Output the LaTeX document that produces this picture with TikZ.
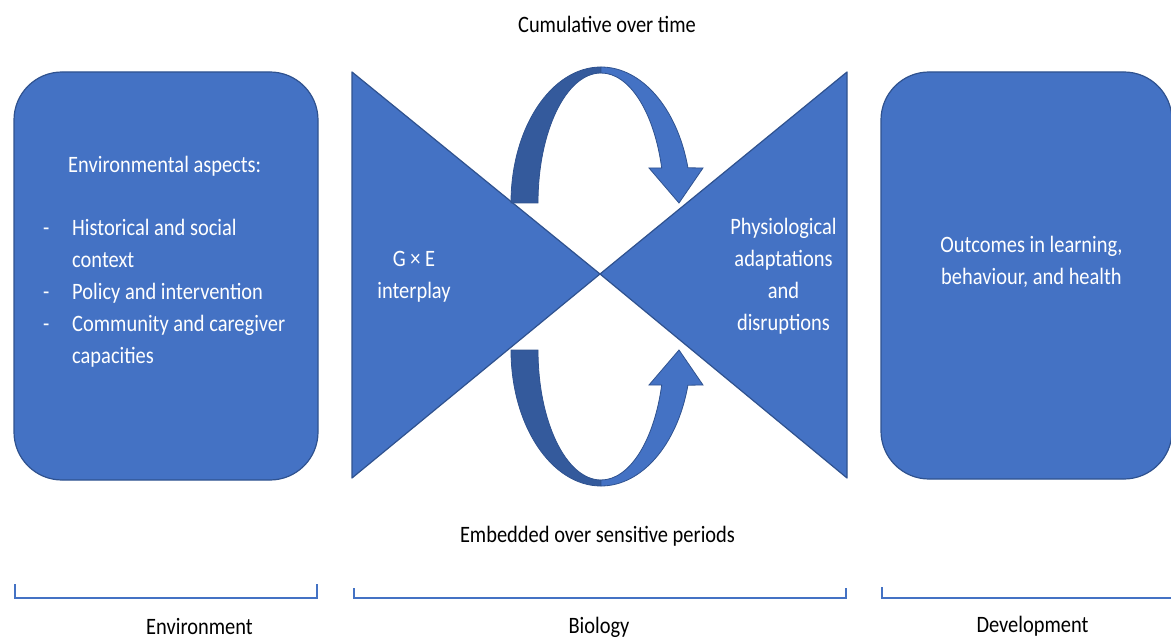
\documentclass[tikz,border=0pt]{standalone}
\usepackage{fontspec}
\setmainfont{Carlito}[FakeStretch=0.87]
\definecolor{myblue}{HTML}{4472C4}
\definecolor{myborder}{HTML}{2F528F}
\definecolor{mydark}{HTML}{345A9C}
\begin{document}
\begin{tikzpicture}[x=1pt,y=1pt,
  txt/.style={font=\fontsize{23.5}{32}\selectfont, inner sep=0pt},
  wtxt/.style={txt, text=white},
  roundbox/.style={draw=myborder, line width=1.2pt, fill=myblue, rounded corners=48pt, inner sep=0pt},
  tri/.style={draw=myborder, line width=1.2pt, fill=myblue, line join=round},
  arrowlight/.style={draw=myborder, line width=0.8pt, fill=myblue},
  arrowdark/.style={draw=myborder, line width=0.8pt, fill=mydark},
  bracket/.style={draw=myblue, line width=1.6pt}]
\useasboundingbox (0,0) rectangle (1171,-639);

% boxes
\node[roundbox, minimum width=304pt, minimum height=408pt] (envbox) at (166,-276) {};
\node[roundbox, minimum width=291pt, minimum height=407pt] (devbox) at (1026.5,-275.5) {};

% bow tie
\draw[tri] (352,-72) -- (352,-478) -- (600,-274) -- cycle;
\draw[tri] (847,-72) -- (847,-478) -- (600,-274) -- cycle;

% top curved arrow
\draw[arrowdark] (511,-203) arc[start angle=180,end angle=90,x radius=90pt,y radius=136pt]
  -- (601,-73) arc[start angle=90,end angle=180,x radius=63pt,y radius=130pt] -- cycle;
\draw[arrowlight] (601,-67) arc[start angle=90,end angle=15,x radius=90pt,y radius=136pt]
  -- (703,-168) -- (679,-203) -- (649,-168) -- (661.7,-168)
  arc[start angle=15.62,end angle=90,x radius=63pt,y radius=130pt] -- cycle;

% bottom curved arrow
\draw[arrowdark] (511,-350) arc[start angle=180,end angle=270,x radius=90pt,y radius=136pt]
  -- (601,-480) arc[start angle=270,end angle=180,x radius=63pt,y radius=130pt] -- cycle;
\draw[arrowlight] (601,-486) arc[start angle=270,end angle=345,x radius=90pt,y radius=136pt]
  -- (703,-385) -- (679,-350) -- (649,-385) -- (661.7,-385)
  arc[start angle=344.38,end angle=270,x radius=63pt,y radius=130pt] -- cycle;

% brackets
\draw[bracket] (15,-584) -- (15,-598) -- (317,-598) -- (317,-584);
\draw[bracket] (354,-588) -- (354,-598) -- (846,-598) -- (846,-588);
\draw[bracket] (882,-587) -- (882,-598) -- (1175,-598);

% texts
\node[txt, anchor=base] (cum) at (607,-33) {Cumulative over time};
\node[txt, anchor=base] (emb) at (597.5,-542) {Embedded over sensitive periods};
\node[txt, anchor=base] (envlabel) at (199.5,-634) {Environment};
\node[txt, anchor=base] (biolabel) at (599,-633) {Biology};
\node[txt, anchor=base] (devlabel) at (1032.5,-632) {Development};

\node[wtxt, anchor=base west] (envhead) at (68,-173) {Environmental aspects:};
\node[wtxt, anchor=base west] (envlist) at (43,-236) {\begin{tabular}[t]{@{}p{29pt}@{}l@{}}-&Historical and social\\&context\\-&Policy and intervention\\-&Community and caregiver\\&capacities\end{tabular}};
\node[wtxt, anchor=base] (gxe) at (414,-267) {\begin{tabular}[t]{@{}c@{}}G × E\\interplay\end{tabular}};
\node[wtxt, anchor=base] (phys) at (783.5,-235) {\begin{tabular}[t]{@{}c@{}}Physiological\\adaptations\\and\\disruptions\end{tabular}};
\node[wtxt, anchor=base] (outc) at (1031.5,-253) {\begin{tabular}[t]{@{}c@{}}Outcomes in learning,\\behaviour, and health\end{tabular}};
\end{tikzpicture}
\end{document}
